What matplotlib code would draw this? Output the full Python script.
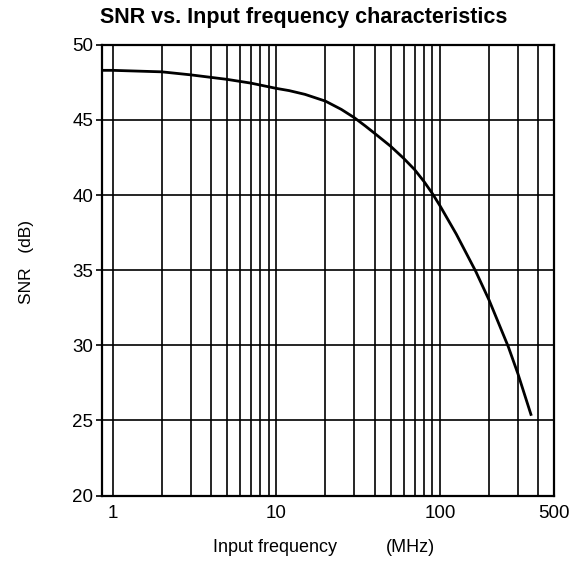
import matplotlib
matplotlib.use("Agg")
import matplotlib.pyplot as plt
from matplotlib.ticker import FixedLocator, NullFormatter

plt.rcParams['font.family'] = ['Liberation Sans', 'DejaVu Sans']

# readings
freq_mhz = [0.86, 1, 2, 3, 5, 7, 10, 12, 15, 20, 25, 30, 35, 40, 50, 60, 70, 80, 90,
            100, 126, 166, 200, 262, 300, 360]
snr_db = [48.3, 48.3, 48.2, 48.0, 47.7, 47.45, 47.1, 46.95, 46.7, 46.25, 45.7, 45.15,
          44.6, 44.1, 43.25, 42.45, 41.7, 40.9, 40.1,
          39.3, 37.4, 34.9, 33.0, 29.9, 28.1, 25.4]

x_ticks = [1, 10, 100, 500]
x_tick_labels = ["1", "10", "100", "500"]
x_grid = [2, 3, 4, 5, 6, 7, 8, 9, 20, 30, 40, 50, 60, 70, 80, 90, 200, 300, 400]
y_ticks = [20, 25, 30, 35, 40, 45, 50]

fig = plt.figure(figsize=(5.72, 5.67), dpi=100)
ax = fig.add_axes([0.178, 0.126, 0.791, 0.795])

ax.plot(freq_mhz, snr_db, color="black", lw=2.0, solid_joinstyle="round")

ax.set_xscale("log")
ax.set_xlim(0.86, 500)
ax.set_ylim(20, 50)
ax.xaxis.set_major_locator(FixedLocator(x_ticks))
ax.set_xticklabels(x_tick_labels)
ax.xaxis.set_minor_locator(FixedLocator(x_grid))
ax.xaxis.set_minor_formatter(NullFormatter())
ax.set_yticks(y_ticks)

ax.grid(True, which="both", color="black", lw=1.2)
ax.tick_params(axis="x", which="both", length=0, labelsize=13.5, pad=7)
ax.tick_params(axis="y", length=4, width=1.2, labelsize=13.5, pad=2)
for sp in ax.spines.values():
    sp.set_linewidth(1.6)

# title sits a little left of the axes centre in the original
fig.text(304 / 572, 1 - 17 / 567, "SNR vs. Input frequency characteristics",
         fontsize=15.5, fontweight="bold", ha="center", va="center")
fig.text(275 / 572, 1 - 548 / 567, "Input frequency", fontsize=13, ha="center", va="center")
fig.text(410 / 572, 1 - 548 / 567, "(MHz)", fontsize=13, ha="center", va="center")
fig.text(27 / 572, 1 - 262 / 567, "SNR   (dB)", fontsize=12.5, rotation=90,
         ha="center", va="center")

fig.savefig("out.png", dpi=100)
